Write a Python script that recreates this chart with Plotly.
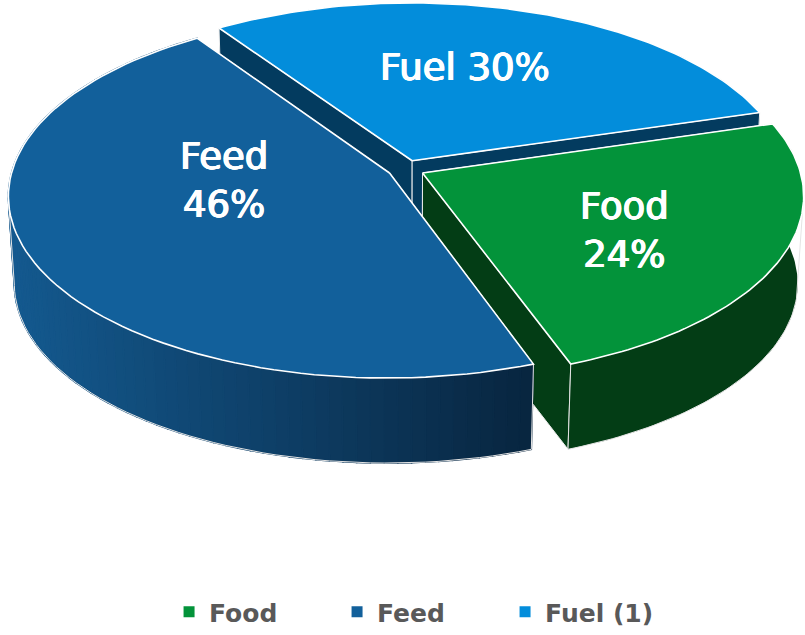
import numpy as np
import plotly.graph_objects as go

labels = ['Food', 'Feed', 'Fuel']
legend_names = ['Food', 'Feed', 'Fuel (1)']
shares = [24, 46, 30]
top_colors = ['#03933A', '#12609B', '#038DDB']
face_colors = ['#033D15', '#0A2A4A', '#033B5F']
rim_left = ['#033D15', '#145A90', '#033B5F']   # colour of the rim at its left end
rim_right = ['#033D15', '#08253F', '#033B5F']  # colour of the rim at its right end
label_text = ['Food<br>24%', 'Feed<br>46%', 'Fuel 30%']
label_x = [624, 224, 465]
label_y = [230, 180, 67]

# Drawing order, back slice first
order = [2, 0, 1]

# Fake 3D pie: a disc seen from above with a bit of perspective
start_angle = -16.4
explode = 0.049
cx, cy = 406, 169
ax, by = 377, 179
persp = 0.122
depth = 88.5
shrink = 0.015


def project(X, Y, level):
    w = 1 - persp * Y + shrink * level
    return cx + ax * X / w, cy + depth * level + by * Y / w


def mix(c1, c2, t):
    a = [int(c1[i:i + 2], 16) for i in (1, 3, 5)]
    b = [int(c2[i:i + 2], 16) for i in (1, 3, 5)]
    return 'rgb(%d,%d,%d)' % tuple(round(p + (q - p) * t) for p, q in zip(a, b))


def poly(x, y, fill, line, width):
    return go.Scatter(x=list(x), y=list(y), mode='lines', fill='toself', fillcolor=fill,
                      line=dict(color=line, width=width), hoverinfo='skip', showlegend=False)


fig = go.Figure()

edges = start_angle + np.concatenate([[0], np.cumsum(shares)]) * 3.6

for i in order:
    a0, a1 = np.radians(edges[i]), np.radians(edges[i + 1])
    mid = (a0 + a1) / 2
    ox, oy = explode * np.cos(mid), explode * np.sin(mid)
    th = np.linspace(a0, a1, 90)
    rx, ry = ox + np.cos(th), oy + np.sin(th)

    # straight cut faces
    faces = []
    for t in (a0, a1):
        ex, ey = ox + np.cos(t), oy + np.sin(t)
        x0, y0 = project(np.array([ox, ex]), np.array([oy, ey]), 0)
        x1, y1 = project(np.array([ox, ex]), np.array([oy, ey]), 1)
        faces.append(poly([x0[0], x0[1], x1[1], x1[0], x0[0]],
                          [y0[0], y0[1], y1[1], y1[0], y0[0]],
                          face_colors[i], '#EDEDED', 1))

    # rim, cut into bands for the shading, on a solid base so no seams show
    xt, yt = project(rx, ry, 0)
    xb, yb = project(rx, ry, 1)
    lo, hi = min(xt.min(), xb.min()), max(xt.max(), xb.max())
    rim = [poly(list(xt) + list(xb[::-1]) + [xt[0]], list(yt) + list(yb[::-1]) + [yt[0]],
                mix(rim_left[i], rim_right[i], 0.5), mix(rim_left[i], rim_right[i], 0.5), 0)]
    if rim_left[i] != rim_right[i]:
        for j in range(len(th) - 1):
            col = mix(rim_left[i], rim_right[i], ((xb[j] + xb[j + 1]) / 2 - lo) / (hi - lo))
            rim.append(poly([xt[j], xt[j + 1], xb[j + 1], xb[j], xt[j]],
                            [yt[j], yt[j + 1], yb[j + 1], yb[j], yt[j]], col, col, 1.5))
    # outline only the part of the lower edge that faces the viewer
    if np.sin(mid) >= 0:
        s, e = np.argmax(xb), np.argmin(xb)
        ts, te = np.argmax(xt), np.argmin(xt)
        rim.append(go.Scatter(x=[xt[ts]] + list(xb[s:e + 1]) + [xt[te]],
                              y=[yt[ts]] + list(yb[s:e + 1]) + [yt[te]],
                              mode='lines', line=dict(color='#E4E4E4', width=1),
                              hoverinfo='skip', showlegend=False))

    # the far slice shows its cut faces in front of its rim, the near ones the other way
    parts = rim + faces if np.sin(mid) < 0 else faces + rim
    fig.add_traces(parts)

    # top of the slice
    px, py = project(np.concatenate([[ox], rx, [ox]]), np.concatenate([[oy], ry, [oy]]), 0)
    fig.add_trace(poly(px, py, top_colors[i], 'white', 1.6))

# legend keys
for name, col in zip(legend_names, top_colors):
    fig.add_trace(go.Scatter(x=[None], y=[None], mode='markers', name=name,
                             marker=dict(symbol='square', size=11, color=col)))

for txt, x, y in zip(label_text, label_x, label_y):
    fig.add_annotation(x=x, y=y, text=txt, showarrow=False, xanchor='center', yanchor='middle',
                       font=dict(family='DejaVu Sans', size=37, color='white',
                                 shadow='0.7px 0 0 #fff, -0.7px 0 0 #fff, 0 0.4px 0 #fff, 0 -0.4px 0 #fff'))

fig.update_xaxes(range=[0, 805], visible=False, fixedrange=True)
fig.update_yaxes(range=[635, 0], visible=False, fixedrange=True)
fig.update_layout(width=805, height=635, margin=dict(l=0, r=0, t=0, b=0),
                  paper_bgcolor='white', plot_bgcolor='white',
                  legend=dict(orientation='h', x=0.21, y=0, yanchor='bottom', xanchor='left',
                              entrywidth=123, entrywidthmode='pixels', itemwidth=30,
                              font=dict(family='DejaVu Sans', size=25, color='#595959', weight=700)))

fig.write_html("out.html", config=dict(displayModeBar=False),
               post_script="document.body.style.margin='0';")
